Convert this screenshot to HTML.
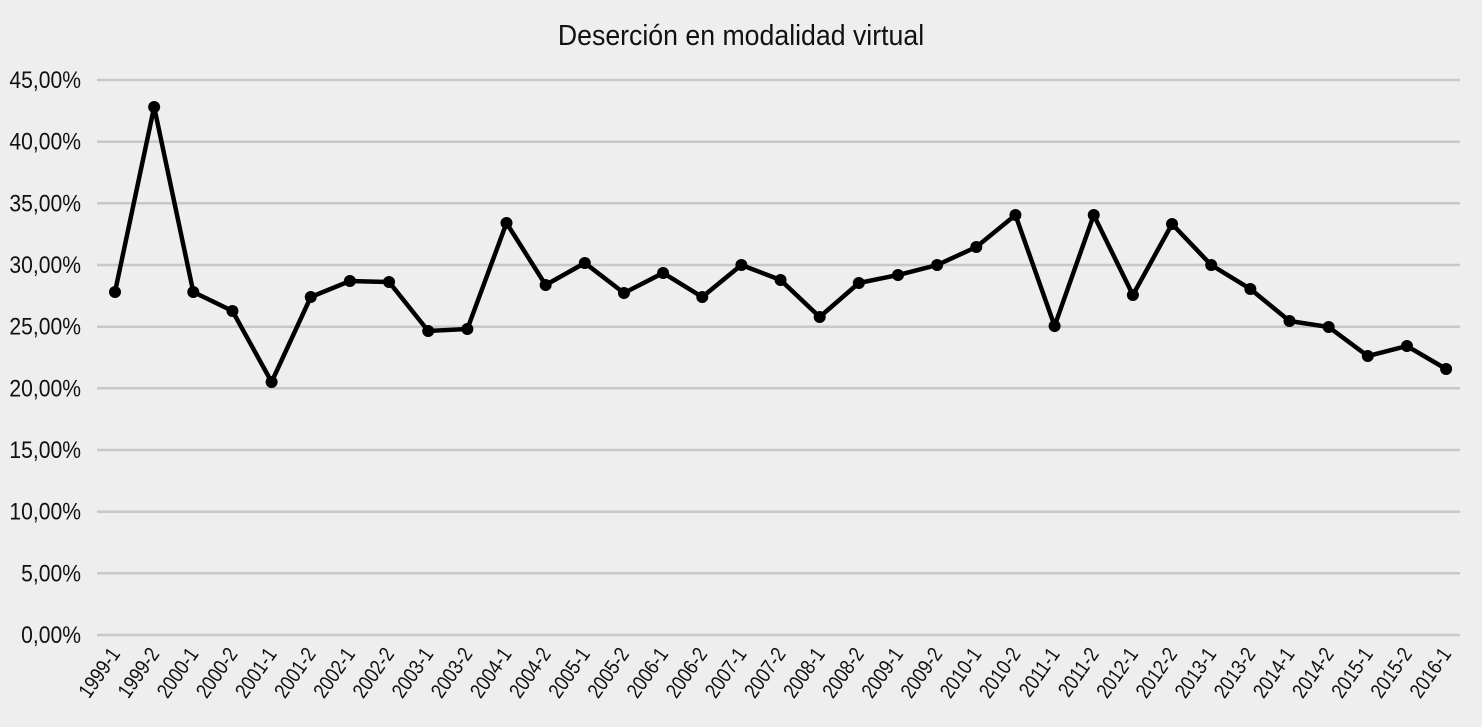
<!DOCTYPE html>
<html><head><meta charset="utf-8"><style>
html,body{margin:0;padding:0;background:#eeeeee;}
svg{display:block;font-family:"Liberation Sans",sans-serif;}
</style></head><body>
<svg width="1482" height="727" viewBox="0 0 1482 727" xmlns="http://www.w3.org/2000/svg">
<rect width="1482" height="727" fill="#eeeeee"/>
<text transform="translate(741,45) scale(0.92,1)" text-anchor="middle" font-size="29" fill="#111">Deserción en modalidad virtual</text>
<g stroke="#c8c8c8" stroke-width="2.5">
<line x1="97" x2="1460" y1="80" y2="80"/><line x1="97" x2="1460" y1="141.7" y2="141.7"/>
<line x1="97" x2="1460" y1="203.3" y2="203.3"/><line x1="97" x2="1460" y1="265" y2="265"/>
<line x1="97" x2="1460" y1="326.7" y2="326.7"/><line x1="97" x2="1460" y1="388.3" y2="388.3"/>
<line x1="97" x2="1460" y1="450" y2="450"/><line x1="97" x2="1460" y1="511.7" y2="511.7"/>
<line x1="97" x2="1460" y1="573.3" y2="573.3"/><line x1="97" x2="1460" y1="635" y2="635"/>
</g>
<g id="ylabs" font-size="24" fill="#111" text-anchor="end"></g>
<g id="lines"></g>
<g id="labs" font-size="21" fill="#111" text-anchor="end"></g>
</svg>
<script>
var ns="http://www.w3.org/2000/svg";
var Y=document.getElementById("ylabs");
for(var k=0;k<=9;k++){var t=document.createElementNS(ns,"text");var yy=635-k*61.667+8;t.setAttribute("transform","translate(81,"+yy+") scale(0.88,1)");t.textContent=(k*5)+",00%";Y.appendChild(t);}
var ys=[292,107,292,311,382,297,281,282,331,329,223,285,263,293,273,297,265,280,317,283,275,265,247,215,326,215,295,224,265,289,321,327,356,346,369];
var labs=[];for(var y=1999;y<=2016;y++){labs.push(y+"-1");if(y<2016)labs.push(y+"-2");}
var pts=ys.map(function(v,i){return [115+i*39.15,v];});
var g=document.getElementById("lines");
var pl=document.createElementNS(ns,"polyline");
pl.setAttribute("points",pts.map(function(p){return p.join(",");}).join(" "));
pl.setAttribute("fill","none");pl.setAttribute("stroke","#000");pl.setAttribute("stroke-width","4.5");pl.setAttribute("stroke-linejoin","miter");
g.appendChild(pl);
pts.forEach(function(p){var c=document.createElementNS(ns,"circle");c.setAttribute("cx",p[0]);c.setAttribute("cy",p[1]);c.setAttribute("r","6");c.setAttribute("fill","#000");g.appendChild(c);});
var L=document.getElementById("labs");
pts.forEach(function(p,i){var t=document.createElementNS(ns,"text");var x=p[0]+6,y=654;t.setAttribute("transform","translate("+x+","+y+") rotate(-55) scale(0.85,1)");t.textContent=labs[i];L.appendChild(t);});
</script>
</body></html>
